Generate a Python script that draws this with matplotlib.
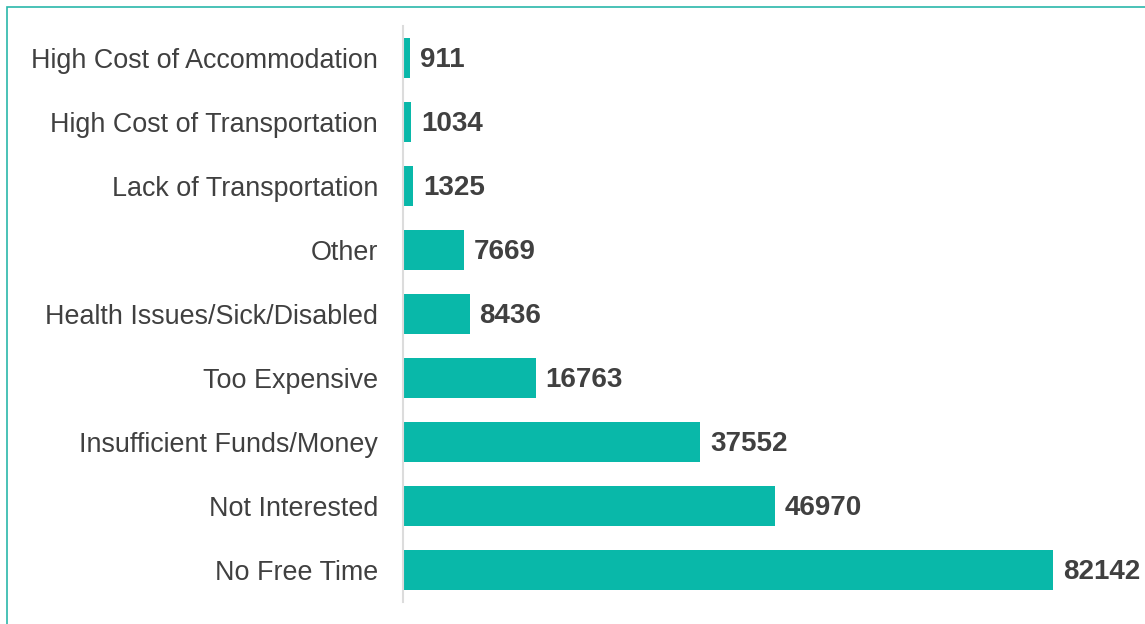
import matplotlib.pyplot as plt
from matplotlib.patches import Rectangle

plt.rcParams['font.family'] = ['Liberation Sans', 'DejaVu Sans']

categories = ['No Free Time', 'Not Interested', 'Insufficient Funds/Money',
              'Too Expensive', 'Health Issues/Sick/Disabled', 'Other',
              'Lack of Transportation', 'High Cost of Transportation',
              'High Cost of Accommodation']
values = [82142, 46970, 37552, 16763, 8436, 7669, 1325, 1034, 911]

bar_color = '#09B8A9'
text_color = '#404040'

W, H = 1145, 624
fig = plt.figure(figsize=(W / 100, H / 100), dpi=100, facecolor='white')
ax = fig.add_axes([403 / W, (H - 602) / H, 650 / W, 576 / H])

ypos = list(range(len(categories)))
ax.barh(ypos, values, height=0.61, color=bar_color, zorder=2)
ax.set_xlim(0, max(values))
ax.set_ylim(-0.5, 8.5)
ax.set_yticks(ypos)
ax.set_yticklabels(categories, fontsize=19.4, color=text_color)
ax.tick_params(axis='y', length=0, pad=18)
ax.set_xticks([])

for s in ['top', 'right', 'bottom']:
    ax.spines[s].set_visible(False)
ax.spines['left'].set_color('#dcdcdc')
ax.spines['left'].set_linewidth(1.5)

for y, v in zip(ypos, values):
    ax.annotate(str(v), (v, y), xytext=(7, -1.5), textcoords='offset points',
                ha='left', va='center', fontsize=20, fontweight='bold',
                color=text_color, annotation_clip=False)

# teal frame (right and bottom edges fall outside the image)
fig.patches.append(Rectangle((7 / W, -0.1), 1.2, 1 - 7 / H + 0.1,
                             transform=fig.transFigure, fill=False,
                             edgecolor='#2BB8AA', linewidth=1.2))

fig.savefig('out.png', dpi=100)
